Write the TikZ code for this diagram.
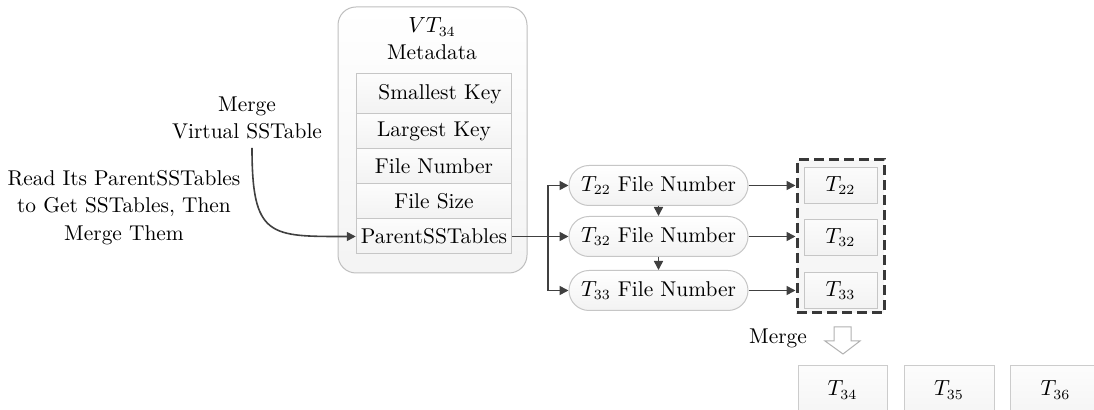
\documentclass[tikz,border=0pt]{standalone}
\usetikzlibrary{arrows.meta}
\begin{document}
\begin{tikzpicture}[x=0.5pt,y=-0.5pt,
  font=\fontsize{10.7}{13.7}\selectfont,
  outer/.style={draw=gray!50, rounded corners=9pt, top color=white, bottom color=gray!9, line width=0.5pt},
  cell/.style={draw=gray!45, top color=gray!2, bottom color=gray!10, minimum width=77.75pt, inner sep=0pt, line width=0.5pt},
  pill/.style={draw=gray!45, rounded corners=10pt, top color=white, bottom color=gray!10, minimum width=89.5pt, minimum height=20pt, inner sep=0pt, line width=0.5pt},
  tbox/.style={draw=gray!45, top color=gray!3, bottom color=gray!10, minimum width=36.5pt, minimum height=18pt, inner sep=0pt, line width=0.5pt},
  bbox/.style={draw=gray!40, top color=gray!2, bottom color=gray!8, minimum height=24pt, inner sep=0pt, line width=0.5pt},
  arr/.style={draw=black!75, line width=0.8pt, -{Triangle[length=4.5pt,width=4.5pt]}},
  lbl/.style={align=center, inner sep=0pt},
]
\clip (0,0) rectangle (1094,410);
\fill[white] (0,0) rectangle (1094,410);

% metadata container
\node[outer, minimum width=94.5pt, minimum height=133pt] (meta) at (432.5,140) {};
\node[inner sep=0pt] (vt) at (432,27) {$VT_{34}$};
\node[inner sep=0pt] (md) at (432,52) {Metadata};
\node[cell, minimum height=20pt]   (c1) at (434,94)    {\hspace{6pt}Smallest Key};
\node[cell, minimum height=17.5pt] (c2) at (434,131.5) {Largest Key};
\node[cell, minimum height=17.5pt] (c3) at (434,166.5) {File Number};
\node[cell, minimum height=17.5pt] (c4) at (434,201.5) {File Size};
\node[cell, minimum height=17.5pt] (c5) at (434,236.5) {ParentSSTables};

% left labels
\node[lbl] (mv) at (247,118) {Merge\\Virtual SSTable};
\node[lbl] (rd) at (124,207.5) {Read Its ParentSSTables\\to Get SSTables, Then\\Merge Them};
\coordinate (cs) at (252,148);
\draw[arr] (cs) .. controls (252,238) and (270,236.5) .. (c5.west);

% pills
\node[pill] (p22) at (658.5,185.5) {$T_{22}$ File Number};
\node[pill] (p32) at (658.5,236.5) {$T_{32}$ File Number};
\node[pill] (p33) at (658.5,290.5) {$T_{33}$ File Number};
\coordinate (br) at (548,236.5);
\draw[arr] (c5.east) -- (p32.west);
\draw[arr] (br) |- (p22.west);
\draw[arr] (br) |- (p33.west);
\draw[arr] (p22.south) -- (p32.north);
\draw[arr] (p32.south) -- (p33.north);

% dashed group
\node[draw=black!78, dash pattern=on 5pt off 2.5pt, line width=1.5pt, fill=gray!7, minimum width=43.5pt, minimum height=76.5pt, inner sep=0pt] (grp) at (840.5,236.5) {};
\node[tbox] (t22) at (840.5,185.5) {$T_{22}$};
\node[tbox] (t32) at (840.5,237.5) {$T_{32}$};
\node[tbox] (t33) at (840.5,290.5) {$T_{33}$};
\draw[arr] (p22.east) -- (p22.east -| grp.west);
\draw[arr] (p32.east) -- (p32.east -| grp.west);
\draw[arr] (p33.east) -- (p33.east -| grp.west);

% merge
\node[inner sep=0pt] (mg) at (778,338) {Merge};
\draw[draw=gray!60, fill=white, line width=0.5pt] (834,327) -- (851,327) -- (851,341) -- (860,341) -- (843,354) -- (825,341) -- (834,341) -- cycle;

% results
\node[bbox, minimum width=44.5pt] (t34) at (842.5,390) {$T_{34}$};
\node[bbox, minimum width=45pt]   (t35) at (949,390)   {$T_{35}$};
\node[bbox, minimum width=45pt]   (t36) at (1055.5,390) {$T_{36}$};
\end{tikzpicture}
\end{document}
